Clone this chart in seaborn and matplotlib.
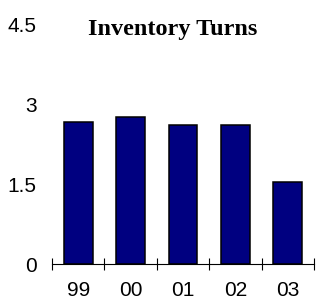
import matplotlib
matplotlib.use("Agg")
import matplotlib.pyplot as plt
import seaborn as sns
import pandas as pd
import numpy as np

categories = ["99", "00", "01", "02", "03"]
values = [2.67, 2.75, 2.60, 2.60, 1.54]
yticks = [0, 1.5, 3, 4.5]
ytick_labels = ["0", "1.5", "3", "4.5"]
title = "Inventory Turns"

sns.set_theme(style="white")
plt.rcParams["font.family"] = ["Liberation Sans", "DejaVu Sans"]

df = pd.DataFrame({"year": categories, "turns": values})

fig = plt.figure(figsize=(3.18, 3.03), dpi=100)
ax = fig.add_axes([52/318, 39/303, 262/318, 240/303])

sns.barplot(data=df, x="year", y="turns", color="#000080", edgecolor="black",
            linewidth=1.1, width=0.55, saturation=1, ax=ax, order=categories)

ax.set_xlim(-0.5, len(categories) - 0.5)
ax.set_ylim(0, 4.5)
ax.set_yticks(yticks)
ax.set_yticklabels(ytick_labels)
ax.set_xlabel("")
ax.set_ylabel("")

for s in ["left", "top", "right"]:
    ax.spines[s].set_visible(False)
ax.spines["bottom"].set_color("black")
ax.spines["bottom"].set_linewidth(0.8)

ax.tick_params(axis="y", length=0, pad=11, labelsize=15, labelcolor="black")
ax.tick_params(axis="x", which="major", length=0, pad=12.5, labelsize=15, labelcolor="black")
ax.set_xticks(np.arange(-0.5, len(categories), 1.0), minor=True)
ax.tick_params(axis="x", which="minor", direction="inout", length=9, width=0.8, color="black", bottom=True)

fig.text(173/318, 1 - 30/303, title, ha="center", va="center",
         fontsize=17.5, fontweight="bold", family=["Liberation Serif", "DejaVu Serif"], color="black")

fig.savefig("out.png", dpi=100)
